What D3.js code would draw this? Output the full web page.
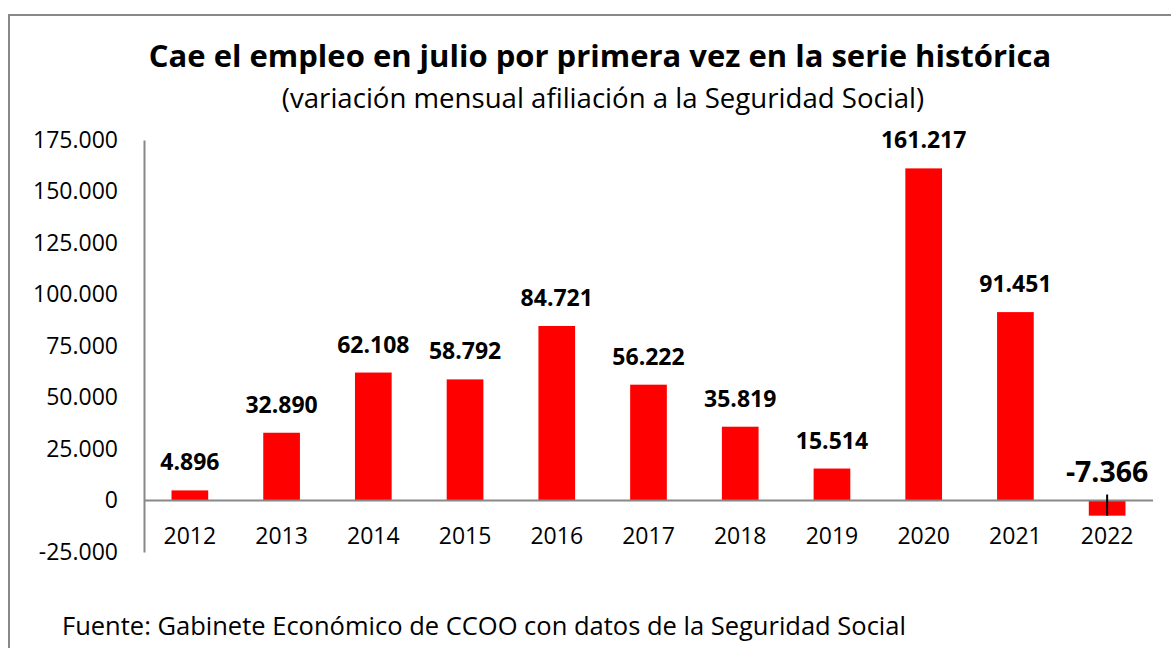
<!DOCTYPE html>
<html>
<head>
<meta charset="utf-8">
<script src="https://cdn.jsdelivr.net/npm/d3@7"></script>
<style>
  body { margin: 0; background: #fff; }
  svg { display: block; font-family: "Open Sans", sans-serif; }
</style>
</head>
<body>
<svg width="1171" height="648"></svg>
<script>
// datos: variación mensual afiliación en julio
const years = ['2012','2013','2014','2015','2016','2017','2018','2019','2020','2021','2022'];
const values = [4896, 32890, 62108, 58792, 84721, 56222, 35819, 15514, 161217, 91451, -7366];
const yTicks = [-25000, 0, 25000, 50000, 75000, 100000, 125000, 150000, 175000];

const es = d3.formatLocale({decimal: ',', thousands: '.', grouping: [3], currency: ['', '€'], minus: '-'});
const fmt = es.format(',d');

const svg = d3.select('svg');

// marco
svg.append('path')
    .attr('d', 'M9,660 L9,15 L1180,15')
    .attr('fill', 'none')
    .attr('stroke', '#888')
    .attr('stroke-width', 2);

// titulo
svg.append('text')
    .attr('x', 600).attr('y', 67)
    .attr('text-anchor', 'middle')
    .style('font-weight', 'bold')
    .style('font-size', '31px')
    .text('Cae el empleo en julio por primera vez en la serie histórica');

svg.append('text')
    .attr('x', 603).attr('y', 108)
    .attr('text-anchor', 'middle')
    .style('font-size', '27.6px')
    .text('(variación mensual afiliación a la Seguridad Social)');

const x = d3.scaleBand()
    .domain(years)
    .range([144, 1153])
    .paddingInner(0.6)
    .paddingOuter(0.3);

const y = d3.scaleLinear()
    .domain([-25000, 175000])
    .range([552, 140]);

// eje y
const yAxis = svg.append('g')
    .attr('transform', 'translate(144,0)')
    .call(d3.axisLeft(y).tickValues(yTicks).tickSize(0).tickPadding(26).tickFormat(fmt));
yAxis.select('.domain').attr('stroke', '#888').attr('stroke-width', 2);
yAxis.selectAll('text')
    .style('font-family', '"Open Sans", sans-serif')
    .style('font-size', '23px')
    .attr('fill', '#000');

// barras
svg.selectAll('rect.bar')
    .data(values)
    .join('rect')
    .attr('class', 'bar')
    .attr('x', (d, i) => x(years[i]))
    .attr('width', x.bandwidth())
    .attr('y', d => y(Math.max(0, d)))
    .attr('height', d => Math.abs(y(d) - y(0)))
    .attr('fill', '#ff0000');

// linea cero
svg.append('line')
    .attr('x1', 144).attr('x2', 1153)
    .attr('y1', y(0)).attr('y2', y(0))
    .attr('stroke', '#888')
    .attr('stroke-width', 2);

// marca 2022
const last = years[years.length - 1];
svg.append('line')
    .attr('x1', x(last) + x.bandwidth() / 2).attr('x2', x(last) + x.bandwidth() / 2)
    .attr('y1', y(0) - 6).attr('y2', y(values[values.length - 1]))
    .attr('stroke', '#000')
    .attr('stroke-width', 2);

// categorias
svg.selectAll('text.cat')
    .data(years)
    .join('text')
    .attr('class', 'cat')
    .attr('x', d => x(d) + x.bandwidth() / 2)
    .attr('y', 544)
    .attr('text-anchor', 'middle')
    .style('font-size', '23px')
    .text(d => d);

// etiquetas
svg.selectAll('text.lbl')
    .data(values)
    .join('text')
    .attr('class', 'lbl')
    .attr('x', (d, i) => x(years[i]) + x.bandwidth() / 2)
    .attr('y', d => d >= 0 ? y(d) - 20 : y(0) - 19)
    .attr('text-anchor', 'middle')
    .style('font-weight', 'bold')
    .style('font-size', d => d >= 0 ? '23px' : '28.5px')
    .text(d => fmt(d));

// fuente
svg.append('text')
    .attr('x', 62).attr('y', 635)
    .style('font-size', '25.5px')
    .text('Fuente: Gabinete Económico de CCOO con datos de la Seguridad Social');
</script>
</body>
</html>
